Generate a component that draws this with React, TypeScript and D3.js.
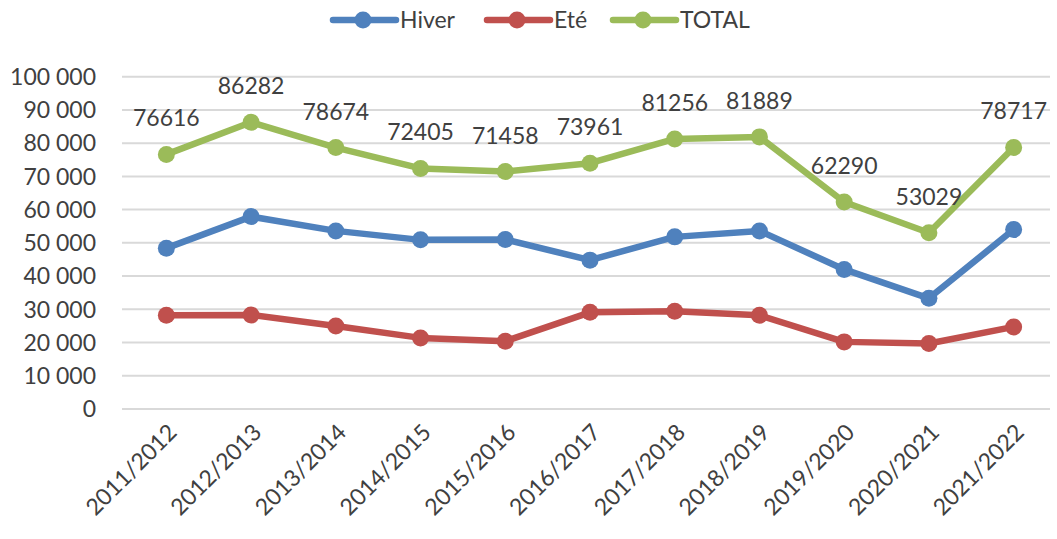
import React, { useEffect, useRef } from "react";
import * as d3 from "d3";

const seasons = [
  "2011/2012", "2012/2013", "2013/2014", "2014/2015", "2015/2016", "2016/2017",
  "2017/2018", "2018/2019", "2019/2020", "2020/2021", "2021/2022",
];
const hiver = [48400, 57900, 53600, 50900, 51000, 44800, 51800, 53600, 42000, 33300, 54000];
const ete = [28200, 28300, 25000, 21400, 20400, 29100, 29400, 28200, 20200, 19700, 24700];
const total = [76616, 86282, 78674, 72405, 71458, 73961, 81256, 81889, 62290, 53029, 78717];
const yTicks = [0, 10000, 20000, 30000, 40000, 50000, 60000, 70000, 80000, 90000, 100000];

const series = [
  { name: "Hiver", values: hiver, color: "#4F81BD" },
  { name: "Eté", values: ete, color: "#C0504D" },
  { name: "TOTAL", values: total, color: "#9BBB59" },
];

const W = 1057;
const H = 539;
const FONT = "Lato, 'Open Sans', sans-serif";

const App: React.FC = () => {
  const ref = useRef<SVGSVGElement>(null);

  useEffect(() => {
    const svg = d3.select(ref.current);
    svg.selectAll("*").remove();

    const x = d3.scaleBand().domain(seasons).range([124, 1056]);
    const y = d3.scaleLinear().domain([0, 100000]).range([409, 76.7]);
    const cx = (i: number) => (x(seasons[i]) as number) + x.bandwidth() / 2;

    // gridlines
    svg
      .append("g")
      .selectAll("line")
      .data(yTicks)
      .enter()
      .append("line")
      .attr("x1", 122)
      .attr("x2", 1050)
      .attr("y1", (d) => y(d))
      .attr("y2", (d) => y(d))
      .attr("stroke", "#D9D9D9")
      .attr("stroke-width", 2);

    const fmt = (v: number) => (v === 0 ? "0" : d3.format(",")(v).replace(/,/g, " "));
    svg
      .append("g")
      .selectAll("text")
      .data(yTicks)
      .enter()
      .append("text")
      .attr("x", 96)
      .attr("y", (d) => y(d))
      .attr("dy", "0.36em")
      .attr("text-anchor", "end")
      .attr("font-family", FONT)
      .attr("font-size", 23)
      .attr("fill", "#404040")
      .text(fmt);

    // x labels
    svg
      .append("g")
      .selectAll("text")
      .data(seasons)
      .enter()
      .append("text")
      .attr("transform", (d, i) => `translate(${cx(i) + 6},${428}) rotate(-45)`)
      .attr("text-anchor", "end")
      .attr("dy", "0.36em")
      .attr("font-family", FONT)
      .attr("font-size", 23)
      .attr("fill", "#404040")
      .text((d) => d);

    const line = d3
      .line<number>()
      .x((d, i) => cx(i))
      .y((d) => y(d));

    series.forEach((s) => {
      svg
        .append("path")
        .datum(s.values)
        .attr("fill", "none")
        .attr("stroke", s.color)
        .attr("stroke-width", 6.5)
        .attr("stroke-linejoin", "round")
        .attr("d", line);
      svg
        .append("g")
        .selectAll("circle")
        .data(s.values)
        .enter()
        .append("circle")
        .attr("cx", (d, i) => cx(i))
        .attr("cy", (d) => y(d))
        .attr("r", 8.5)
        .attr("fill", s.color);
    });

    // total labels
    svg
      .append("g")
      .selectAll("text")
      .data(total)
      .enter()
      .append("text")
      .attr("x", (d, i) => cx(i))
      .attr("y", (d) => y(d) - 28)
      .attr("text-anchor", "middle")
      .attr("font-family", FONT)
      .attr("font-size", 23)
      .attr("fill", "#404040")
      .text((d) => String(d));

    // legend
    const legendX = [333, 487, 613];
    const legend = svg.append("g");
    series.forEach((s, i) => {
      const g = legend.append("g").attr("transform", `translate(${legendX[i]},20)`);
      g.append("line")
        .attr("x1", 0)
        .attr("x2", 63)
        .attr("stroke", s.color)
        .attr("stroke-width", 6.5)
        .attr("stroke-linecap", "round");
      g.append("circle").attr("cx", 30).attr("r", 8.5).attr("fill", s.color);
      g.append("text")
        .attr("x", 67)
        .attr("dy", "0.36em")
        .attr("font-family", FONT)
        .attr("font-size", 23)
        .attr("fill", "#404040")
        .text(s.name);
    });
  }, []);

  return (
    <svg
      ref={ref}
      width={W}
      height={H}
      style={{ position: "absolute", left: 0, top: 0, background: "#fff" }}
    />
  );
};

export default App;
